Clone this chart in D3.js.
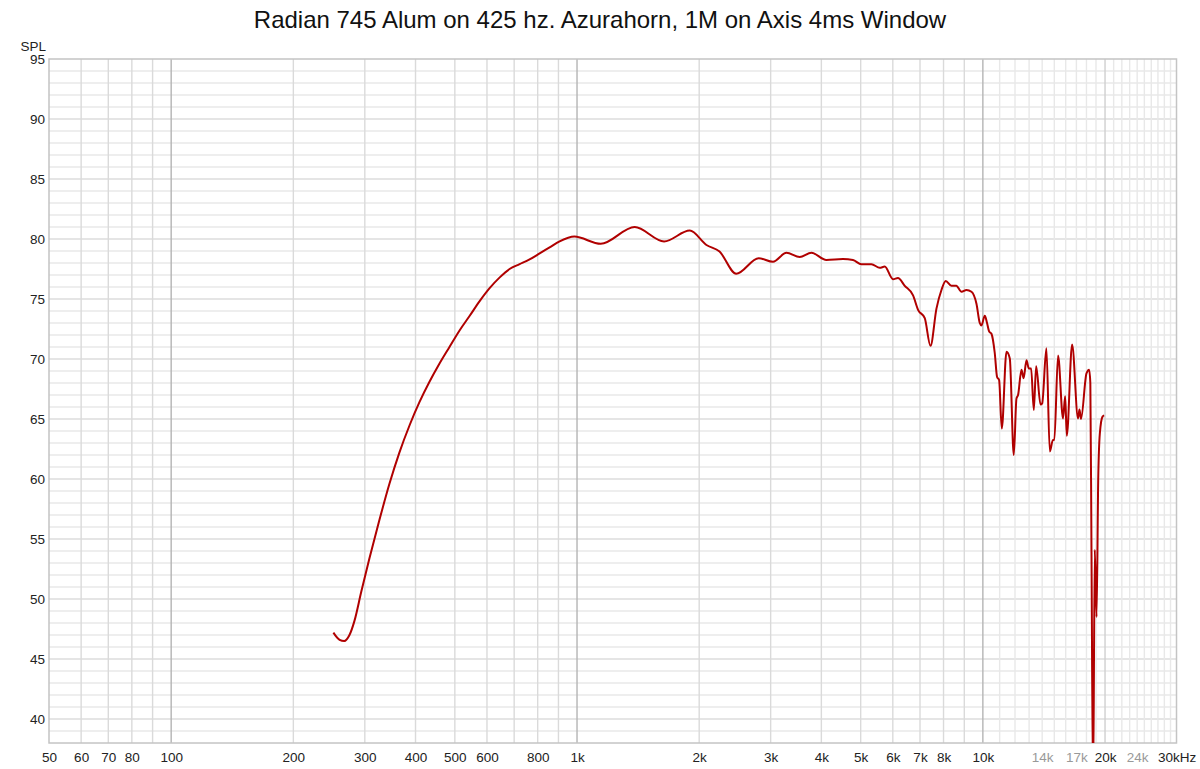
<!DOCTYPE html>
<html><head><meta charset="utf-8">
<script src="https://cdn.jsdelivr.net/npm/d3@7"></script>
<style>
body{margin:0;background:#fff;}
svg{display:block;font-family:"Liberation Sans",Arial,Helvetica,sans-serif;}
</style></head>
<body><svg id="c" width="1200" height="769"></svg>
<script>
const title = "Radian 745 Alum on 425 hz. Azurahorn, 1M on Axis 4ms Window";
const yLabel = "SPL";
const freqs = [251,260,267,275,283,294,308,326,345,365,387,409,433,458,485,514,544,575,609,645,682,722,764,809,856,906,985,1144,1387,1639,1896,2084,2245,2467,2803,3040,3281,3538,3780,4116,4522,4786,5021,5314,5571,5731,6007,6176,6420,6730,6923,7192,7429,7685,7906,8101,8366,8600,8859,9113,9374,9643,9826,9920,10108,10240,10360,10500,10698,10840,10965,11133,11434,11651,11917,12100,12210,12450,12600,12810,12980,13150,13350,13530,13870,14000,14340,14620,14880,15000,15320,15760,15950,16100,16590,17160,17300,17450,18000,18280,18400,18520,18690,18870,19060,19240,19420,19720,19900];
const spl = [47.2,46.6,46.5,47.0,48.2,50.6,53.4,56.6,59.6,62.2,64.5,66.4,68.1,69.6,71.0,72.4,73.6,74.8,75.9,76.8,77.5,77.9,78.3,78.8,79.3,79.8,80.2,79.6,81.0,79.8,80.7,79.5,78.95,77.1,78.4,78.1,78.85,78.5,78.85,78.25,78.33,78.25,77.9,77.9,77.6,77.7,76.65,76.75,76.1,75.3,74.1,73.4,71.1,74.2,75.75,76.5,76.1,76.1,75.6,75.75,75.6,74.6,73.0,72.8,73.6,73.0,72.3,72.1,70.5,68.5,68.25,64.2,70.6,70.05,62.0,66.7,67.0,69.1,68.4,69.9,69.2,69.2,65.75,69.4,66.2,66.3,70.9,62.3,63.25,63.25,70.3,65.05,66.9,63.6,71.2,65.05,65.8,65.0,68.8,69.1,68.0,54.0,34.0,54.1,48.5,59.9,63.8,65.2,65.3];
const xTicks = [50,60,70,80,100,200,300,400,500,600,800,1000,2000,3000,4000,5000,6000,7000,8000,10000,14000,17000,20000,24000,30000];
const xTickLabels = ["50","60","70","80","100","200","300","400","500","600","800","1k","2k","3k","4k","5k","6k","7k","8k","10k","14k","17k","20k","24k","30kHz"];
const grayTickLabels = ["14k","17k","24k"];
const yTicks = [40,45,50,55,60,65,70,75,80,85,90,95];
const gridFreqs = [60,70,80,90,100,200,300,400,500,600,700,800,900,1000,2000,3000,4000,5000,6000,7000,8000,9000,10000,11000,12000,13000,14000,15000,16000,17000,18000,19000,20000,21000,22000,23000,24000,25000,26000,27000,28000,29000];
const majorFreqs = [100,1000,10000];

const svg = d3.select("#c");
const L=49, R=1176.5, T=59, B=743;
const x = d3.scaleLog().domain([50,30000]).range([L,R]);
const y = d3.scaleLinear().domain([38,95]).range([B,T]);

svg.append("text").attr("x",600).attr("y",28).attr("text-anchor","middle")
  .attr("font-size",24).attr("fill","#111").text(title);

const g = svg.append("g");
g.selectAll("line.h").data(d3.range(39,95)).join("line")
  .attr("x1",L).attr("x2",R).attr("y1",d=>y(d)).attr("y2",d=>y(d))
  .attr("stroke",d=>d%5===0?"#dcdcdc":"#e8e8e8").attr("stroke-width",1.3);
g.selectAll("line.v").data(gridFreqs).join("line")
  .attr("x1",d=>x(d)).attr("x2",d=>x(d)).attr("y1",T).attr("y2",B)
  .attr("stroke",d=>majorFreqs.includes(d)?"#b4b4b4":(d===20000?"#d0d0d0":(d>10000?"#e8e8e8":"#dadada")))
  .attr("stroke-width",1.4);
g.append("rect").attr("x",L).attr("y",T).attr("width",R-L).attr("height",B-T)
  .attr("fill","none").attr("stroke","#c4c4c4").attr("stroke-width",1.5);

const xa = d3.axisBottom(x).tickValues(xTicks).tickFormat((d,i)=>xTickLabels[i]).tickSize(0).tickPadding(9);
const xg = svg.append("g").attr("transform",`translate(0,${B})`).call(xa);
xg.select(".domain").remove();
xg.selectAll("text").attr("font-size",13.5).attr("font-family","Liberation Sans, Arial, sans-serif")
  .attr("fill",d=>grayTickLabels.includes(xTickLabels[xTicks.indexOf(d)])?"#999":"#222");

const ya = d3.axisLeft(y).tickValues(yTicks).tickSize(0).tickPadding(4);
const yg = svg.append("g").attr("transform",`translate(${L},0)`).call(ya);
yg.select(".domain").remove();
yg.selectAll("text").attr("font-size",13.5).attr("font-family","Liberation Sans, Arial, sans-serif").attr("fill","#222");
svg.append("text").attr("x",46).attr("y",51).attr("text-anchor","end").attr("font-size",13.5).attr("fill","#222").text(yLabel);

svg.append("clipPath").attr("id","clip").append("rect").attr("x",L).attr("y",T).attr("width",R-L).attr("height",B-T);
const data = freqs.map((f,i)=>[f,spl[i]]);
const line = d3.line().x(d=>x(d[0])).y(d=>y(d[1])).curve(d3.curveMonotoneX);
svg.append("path").attr("clip-path","url(#clip)").datum(data).attr("d",line)
  .attr("fill","none").attr("stroke","#b00000").attr("stroke-width",2).attr("stroke-linejoin","round");
</script></body></html>
